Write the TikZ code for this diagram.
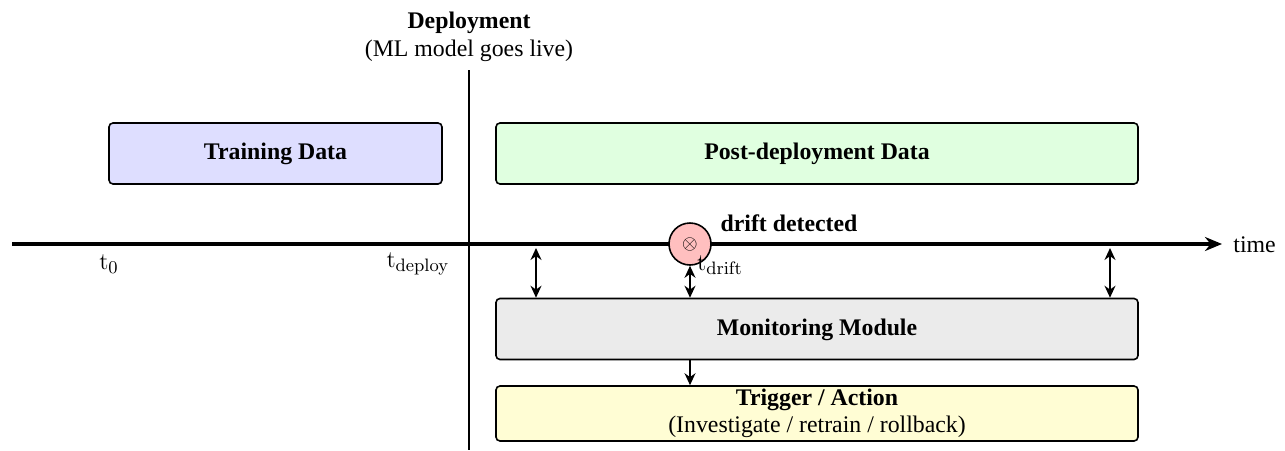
\documentclass[tikz,border=0pt]{standalone}
\usepackage[no-math]{fontspec}
\setmainfont{Liberation Serif}
\usetikzlibrary{arrows.meta}
\tikzstyle{databox} = [rectangle, draw, thick, text centered, minimum height=30.5pt, rounded corners=2pt, font=\bfseries\fontsize{11.9}{14}\selectfont]
\tikzstyle{label} = [inner sep=0pt, font=\fontsize{11.9}{14}\selectfont, align=center]
\tikzstyle{ticklabel} = [inner sep=0pt, font=\fontsize{12.6}{14}\selectfont]
\tikzstyle{arrow} = [{Stealth[length=6pt, width=5.5pt]}-{Stealth[length=6pt, width=5.5pt]}, thick]
\tikzstyle{axis} = [-{Stealth[length=8.5pt, width=7pt]}, line width=1.6pt]

\begin{document}
\begin{tikzpicture}[x=0.5pt, y=-0.5pt]
    \useasboundingbox (0,0) rectangle (1285,450);

        % axes
        \coordinate (axis_start) at (12,244);
        \coordinate (axis_end) at (1222,244);
        \coordinate (deploy_top) at (469,70);
        \coordinate (deploy_bottom) at (469,450);
        \draw [axis] (axis_start) -- (axis_end);
        \draw [thick] (deploy_top) -- (deploy_bottom);

        % nodes
        \node (deployment) [label] at (469,36.5) {\textbf{Deployment}\\(ML model goes live)};
        \node (training) [databox, fill=blue!13, minimum width=166.5pt, text height=9pt, text depth=2.6pt] at (275.5,153.5) {Training Data};
        \node (post_deployment) [databox, fill=green!12, minimum width=321pt, text height=9pt, text depth=2.6pt] at (817,153.5) {Post-deployment Data};
        \node (drift) [circle, draw, thick, fill=red!25, minimum size=21pt, inner sep=0pt] at (690,244) {$\otimes$};
        \node (drift_label) [label, font=\bfseries\fontsize{11.9}{14}\selectfont] at (789,223) {drift detected};
        \node (monitoring) [databox, fill=black!8, minimum width=321pt, text height=9pt, text depth=2.6pt] at (817,329) {Monitoring Module};
        \node (trigger) [databox, fill=yellow!17, minimum width=321pt, minimum height=27.5pt, inner sep=0pt, align=center, font=\fontsize{11.9}{13.5}\selectfont] at (817,413.5) {\textbf{Trigger / Action}\\(Investigate / retrain / rollback)};
        \node (time) [label, anchor=west] at (1233,245) {time};
        \node (t_start) [ticklabel] at (109,264) {$\mathrm{t}_0$};
        \node (t_deploy) [ticklabel] at (418,264) {$\mathrm{t}_{\mathrm{deploy}}$};
        \node (t_drift) [ticklabel] at (720,265) {$\mathrm{t}_{\mathrm{drift}}$};
        \coordinate (check_a) at (536,248);
        \coordinate (check_b) at (1110,248);

        % edges
        \draw [arrow] (check_a) -- (check_a |- monitoring.north);
        \draw [arrow] (drift) -- (drift |- monitoring.north);
        \draw [arrow] (check_b) -- (check_b |- monitoring.north);
        \draw [-{Stealth[length=6pt, width=5.5pt]}, thick] (monitoring.south -| drift) -- (trigger.north -| drift);

    \end{tikzpicture}
\end{document}
